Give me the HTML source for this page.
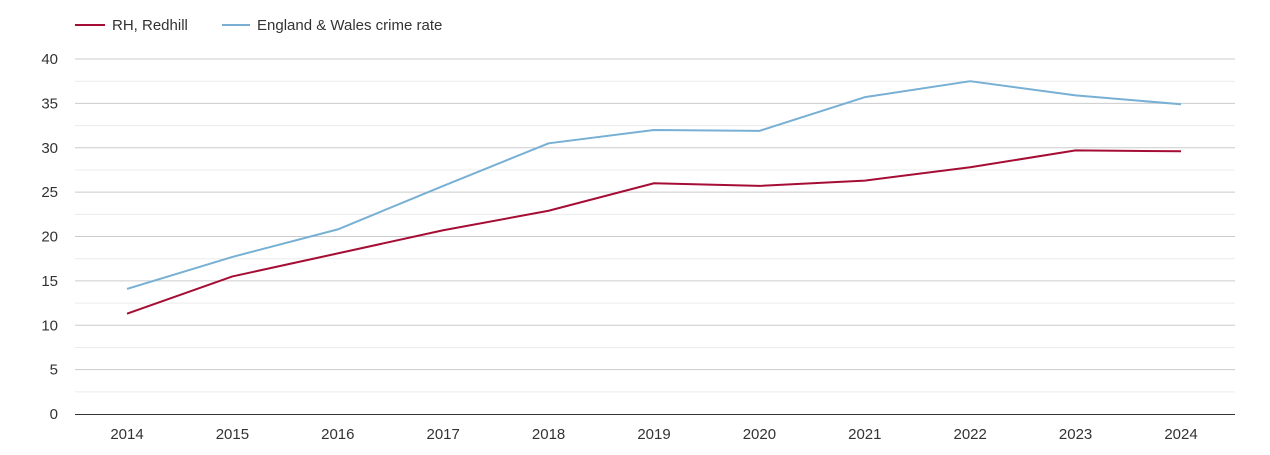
<!DOCTYPE html>
<html><head><meta charset="utf-8">
<style>
body{margin:0;background:#fff;font-family:"Liberation Sans",Arial,sans-serif;}
svg text{font-family:"Liberation Sans",Arial,sans-serif;fill:#333;}
</style></head>
<body>
<svg id="chart" width="1270" height="450" viewBox="0 0 1270 450">
<g id="grid"></g>
<g id="yaxis"></g>
<g id="xaxis"></g>
<g id="series"></g>
<g>
<g>
<line x1="75" y1="25" x2="105" y2="25" stroke="#a50d34" stroke-width="2"/>
<text x="112" y="30" font-size="15">RH, Redhill</text></g>
<g>
<line x1="222" y1="25" x2="250" y2="25" stroke="#77b0d4" stroke-width="2"/>
<text x="257" y="30" font-size="15">England &amp; Wales crime rate</text></g>
</g>
</svg>
<script>
const years=[2014,2015,2016,2017,2018,2019,2020,2021,2022,2023,2024];
const redhill=[11.3,15.5,18.1,20.7,22.9,26.0,25.7,26.3,27.8,29.7,29.6];
const englandWales=[14.1,17.7,20.8,25.7,30.5,32.0,31.9,35.7,37.5,35.9,34.9];
const yTicks=[0,5,10,15,20,25,30,35,40];
const NS='http://www.w3.org/2000/svg';
const x0=75,x1=1235,yTop=59,yBot=414,yMax=40;
const xs=i=>127+i*(1181-127)/(years.length-1);
const ys=v=>yBot-(v/yMax)*(yBot-yTop);
function mk(t,a,p){const e=document.createElementNS(NS,t);for(const k in a)e.setAttribute(k,a[k]);p.appendChild(e);return e;}
const grid=document.getElementById('grid'),ya=document.getElementById('yaxis'),xa=document.getElementById('xaxis'),se=document.getElementById('series');
for(let v=2.5;v<yMax;v+=5){const l=mk('line',{x1:x0,x2:x1,y1:ys(v),y2:ys(v),stroke:'#ececec','stroke-width':1},grid);

}
yTicks.forEach(v=>{if(v>0){const l=mk('line',{x1:x0,x2:x1,y1:ys(v),y2:ys(v),stroke:'#cccccc','stroke-width':1},grid);

}
const t=mk('text',{x:58,y:ys(v)+5,'text-anchor':'end','font-size':15},ya);t.textContent=v;

});
const ax=mk('line',{x1:x0,x2:x1,y1:yBot+0.5,y2:yBot+0.5,stroke:'#333','stroke-width':1},xa);


years.forEach((y,i)=>{const t=mk('text',{x:xs(i),y:439,'text-anchor':'middle','font-size':15},xa);t.textContent=y;

});
function line(data,color,name){const p=mk('polyline',{points:data.map((v,i)=>xs(i)+','+ys(v)).join(' '),fill:'none',stroke:color,'stroke-width':2,'stroke-linejoin':'round'},se);

}
line(englandWales,'#77b0d4','england-wales-line');
line(redhill,'#a50d34','redhill-line');
</script>
</body></html>
